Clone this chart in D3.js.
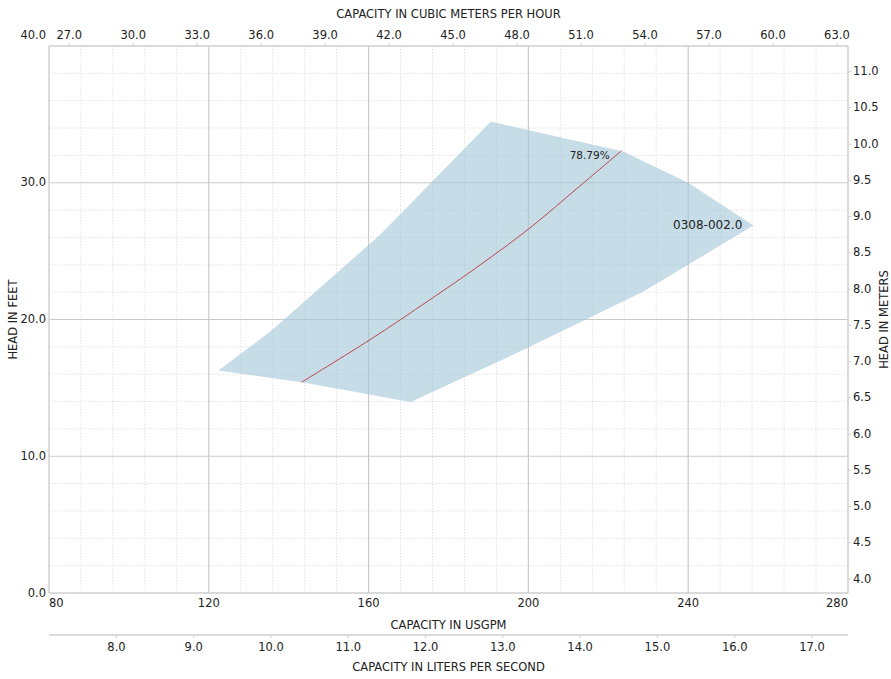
<!DOCTYPE html>
<html>
<head>
<meta charset="utf-8">
<script src="https://cdn.jsdelivr.net/npm/d3@7"></script>
<style>
  html, body { margin: 0; padding: 0; background: #fff; }
  svg { display: block; font-family: "DejaVu Sans", Verdana, sans-serif; }
  text { fill: #222; }
</style>
</head>
<body>
<script>
// ---------- data ----------
const usgpmTicks = [80, 120, 160, 200, 240, 280];
const feetTicks = [0, 10, 20, 30, 40];
const m3hTicks = [27, 30, 33, 36, 39, 42, 45, 48, 51, 54, 57, 60, 63];
const lpsTicks = [8, 9, 10, 11, 12, 13, 14, 15, 16, 17];
const meterTicks = [4.0, 4.5, 5.0, 5.5, 6.0, 6.5, 7.0, 7.5, 8.0, 8.5, 9.0, 9.5, 10.0, 10.5, 11.0];

// operating envelope (USGPM, feet)
const envelopeGpm  = [122.4, 135.7, 162.9, 190.6, 223.7, 240.0, 256.3, 228.8, 197.9, 170.5, 143.25];
const envelopeFeet = [16.27, 19.2, 26.2, 34.47, 32.28, 30.0, 26.87, 22.05, 17.66, 13.96, 15.42];

// efficiency curve (USGPM, feet)
const effGpm  = [143.25, 160.35, 175.37, 187.89, 200.4, 212.92, 223.35];
const effFeet = [15.42, 18.52, 21.45, 23.98, 26.70, 29.77, 32.35];
const effLabel = "78.79%";
const curveLabel = "0308-002.0";

// ---------- layout ----------
const W = 891, H = 679;
const L = 49, R = 848, T = 46, B = 593;

const x = d3.scaleLinear().domain([80, 280]).range([L, R]);
const y = d3.scaleLinear().domain([0, 40]).range([B, T]);
const xTop = d3.scaleLinear().domain([26.05, 63.52]).range([L, R]);
const xLps = d3.scaleLinear().domain([7.127, 17.466]).range([L, R]);
const yM = d3.scaleLinear().domain([3.807, 11.355]).range([B, T]);

const svg = d3.select("body").append("svg").attr("width", W).attr("height", H);
svg.append("rect").attr("width", W).attr("height", H).attr("fill", "#fff");

// ---------- grid ----------
const grid = svg.append("g");
const minorX = d3.range(80, 281, 8).filter(v => !usgpmTicks.includes(v));
const minorY = d3.range(0, 41, 2).filter(v => !feetTicks.includes(v));
grid.selectAll(".mx").data(minorX).join("line")
  .attr("x1", d => x(d)).attr("x2", d => x(d)).attr("y1", T).attr("y2", B)
  .attr("stroke", "#e2e2e2").attr("stroke-width", 1).attr("stroke-dasharray", "1.5,1.5");
grid.selectAll(".my").data(minorY).join("line")
  .attr("x1", L).attr("x2", R).attr("y1", d => y(d)).attr("y2", d => y(d))
  .attr("stroke", "#e2e2e2").attr("stroke-width", 1).attr("stroke-dasharray", "1.5,1.5");
grid.selectAll(".Mx").data(usgpmTicks.slice(1, -1)).join("line")
  .attr("x1", d => x(d)).attr("x2", d => x(d)).attr("y1", T).attr("y2", B)
  .attr("stroke", "#cacaca").attr("stroke-width", 1.2);
grid.selectAll(".My").data(feetTicks.slice(1, -1)).join("line")
  .attr("x1", L).attr("x2", R).attr("y1", d => y(d)).attr("y2", d => y(d))
  .attr("stroke", "#cacaca").attr("stroke-width", 1.2);

// ---------- envelope ----------
const envPts = envelopeGpm.map((g, i) => [g, envelopeFeet[i]]);
svg.append("path")
  .attr("d", d3.line().x(d => x(d[0])).y(d => y(d[1]))(envPts) + "Z")
  .attr("fill", "rgb(160,196,215)").attr("fill-opacity", 0.6).attr("stroke", "none");

// efficiency line
const effPts = effGpm.map((g, i) => [g, effFeet[i]]);
svg.append("path")
  .attr("d", d3.line().curve(d3.curveCatmullRom).x(d => x(d[0])).y(d => y(d[1]))(effPts))
  .attr("fill", "none").attr("stroke", "#c0464f").attr("stroke-width", 1);

const lastEff = effPts[effPts.length - 1];
svg.append("text").attr("x", x(lastEff[0]) - 12).attr("y", y(lastEff[1]) + 5)
  .attr("text-anchor", "end").attr("dominant-baseline", "middle")
  .attr("font-size", 10.5).text(effLabel);

const tip = envPts[6];
svg.append("text").attr("x", x(tip[0]) - 11).attr("y", y(tip[1]))
  .attr("text-anchor", "end").attr("dominant-baseline", "middle")
  .attr("font-size", 12).text(curveLabel);

// ---------- frame ----------
const frame = svg.append("g").attr("stroke", "#cfcfcf").attr("stroke-width", 1.5);
frame.append("line").attr("x1", L).attr("x2", L).attr("y1", T).attr("y2", B);
frame.append("line").attr("x1", R).attr("x2", R).attr("y1", T).attr("y2", B);
frame.append("line").attr("x1", L).attr("x2", R).attr("y1", T).attr("y2", T);
frame.append("line").attr("x1", L).attr("x2", R).attr("y1", B).attr("y2", B);

// ---------- axes ----------
const fs = 11.5;
// bottom USGPM
svg.append("g").selectAll("text").data(usgpmTicks).join("text")
  .attr("x", d => x(d)).attr("y", B + 10).attr("dominant-baseline", "middle")
  .attr("font-size", fs)
  .attr("text-anchor", (d, i) => i === 0 ? "start" : (i === usgpmTicks.length - 1 ? "end" : "middle"))
  .text(d => d3.format("d")(d));
svg.append("text").attr("x", (L + R) / 2).attr("y", 625).attr("text-anchor", "middle")
  .attr("dominant-baseline", "middle").attr("font-size", fs).text("CAPACITY IN USGPM");

// L/s axis
const lpsY = 635;
svg.append("line").attr("x1", L).attr("x2", R).attr("y1", lpsY).attr("y2", lpsY)
  .attr("stroke", "#cfcfcf").attr("stroke-width", 1.5);
svg.append("g").selectAll("line").data(lpsTicks).join("line")
  .attr("x1", d => xLps(d)).attr("x2", d => xLps(d)).attr("y1", lpsY).attr("y2", lpsY + 3)
  .attr("stroke", "#cfcfcf");
svg.append("g").selectAll("text").data(lpsTicks).join("text")
  .attr("x", d => xLps(d)).attr("y", lpsY + 12).attr("dominant-baseline", "middle")
  .attr("text-anchor", "middle").attr("font-size", fs).text(d => d3.format(".1f")(d));
svg.append("text").attr("x", (L + R) / 2).attr("y", 667).attr("text-anchor", "middle")
  .attr("dominant-baseline", "middle").attr("font-size", fs).text("CAPACITY IN LITERS PER SECOND");

// top m3/h axis
svg.append("g").selectAll("line").data(m3hTicks).join("line")
  .attr("x1", d => xTop(d)).attr("x2", d => xTop(d)).attr("y1", T).attr("y2", T - 3)
  .attr("stroke", "#cfcfcf");
svg.append("g").selectAll("text").data(m3hTicks).join("text")
  .attr("x", d => xTop(d)).attr("y", 35).attr("dominant-baseline", "middle")
  .attr("text-anchor", "middle").attr("font-size", fs).text(d => d3.format(".1f")(d));
svg.append("text").attr("x", (L + R) / 2).attr("y", 14).attr("text-anchor", "middle")
  .attr("dominant-baseline", "middle").attr("font-size", fs).text("CAPACITY IN CUBIC METERS PER HOUR");

// left feet axis
svg.append("g").selectAll("text").data(feetTicks).join("text")
  .attr("x", L - 3).attr("y", (d, i) => i === feetTicks.length - 1 ? y(d) - 11 : y(d))
  .attr("dominant-baseline", "middle").attr("text-anchor", "end").attr("font-size", fs)
  .text(d => d3.format(".1f")(d));
svg.append("text").attr("transform", `translate(13,${(T + B) / 2}) rotate(-90)`)
  .attr("text-anchor", "middle").attr("dominant-baseline", "middle").attr("font-size", fs)
  .text("HEAD IN FEET");

// right meters axis
svg.append("g").selectAll("line").data(meterTicks).join("line")
  .attr("x1", R).attr("x2", R + 3).attr("y1", d => yM(d)).attr("y2", d => yM(d))
  .attr("stroke", "#cfcfcf");
svg.append("g").selectAll("text").data(meterTicks).join("text")
  .attr("x", R + 5).attr("y", d => yM(d)).attr("dominant-baseline", "middle")
  .attr("text-anchor", "start").attr("font-size", fs).text(d => d3.format(".1f")(d));
svg.append("text").attr("transform", `translate(884,${(T + B) / 2}) rotate(-90)`)
  .attr("text-anchor", "middle").attr("dominant-baseline", "middle").attr("font-size", fs)
  .text("HEAD IN METERS");
</script>
</body>
</html>
